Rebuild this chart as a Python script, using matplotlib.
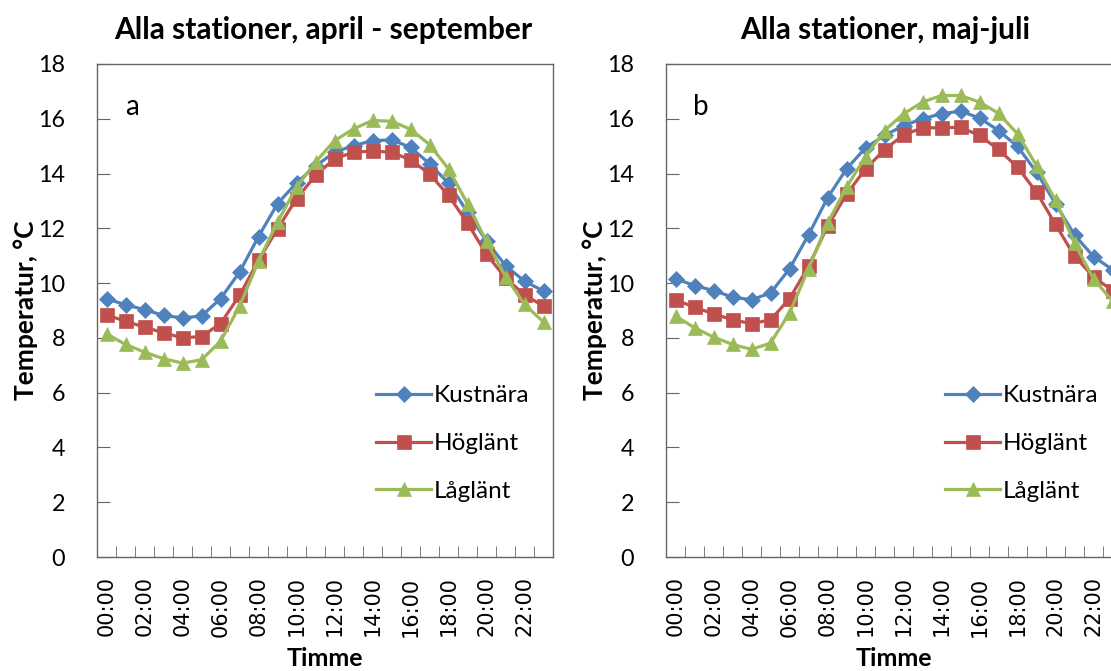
import matplotlib
matplotlib.use("Agg")
from matplotlib import pyplot as plt
from matplotlib.ticker import MultipleLocator
import numpy as np

# hourly mean temperature (deg C)
hours = ["%02d:00" % h for h in range(24)]
series_names = ["Kustnära", "Höglänt", "Låglänt"]

# panel a: april - september
kust_a = [9.43, 9.21, 9.03, 8.82, 8.73, 8.80, 9.43, 10.40, 11.70, 12.90, 13.66, 14.27,
          14.78, 15.02, 15.20, 15.23, 14.96, 14.36, 13.65, 12.59, 11.53, 10.64, 10.07, 9.71]
hog_a = [8.84, 8.61, 8.39, 8.19, 8.00, 8.05, 8.52, 9.55, 10.83, 11.98, 13.08, 13.93,
         14.54, 14.78, 14.82, 14.78, 14.50, 13.99, 13.20, 12.19, 11.05, 10.19, 9.57, 9.16]
lag_a = [8.15, 7.76, 7.48, 7.24, 7.08, 7.20, 7.88, 9.15, 10.80, 12.23, 13.50, 14.42,
         15.20, 15.63, 15.94, 15.91, 15.62, 15.06, 14.17, 12.90, 11.52, 10.24, 9.22, 8.58]

# panel b: maj - juli
kust_b = [10.16, 9.91, 9.73, 9.49, 9.39, 9.64, 10.52, 11.76, 13.11, 14.17, 14.94, 15.39,
          15.75, 16.00, 16.18, 16.28, 16.03, 15.57, 14.99, 14.05, 12.90, 11.76, 10.97, 10.49]
hog_b = [9.39, 9.12, 8.88, 8.66, 8.52, 8.66, 9.43, 10.61, 12.07, 13.24, 14.17, 14.87,
         15.41, 15.67, 15.67, 15.69, 15.39, 14.88, 14.23, 13.32, 12.14, 10.99, 10.22, 9.73]
lag_b = [8.80, 8.37, 8.03, 7.76, 7.58, 7.81, 8.91, 10.52, 12.19, 13.50, 14.62, 15.57,
         16.18, 16.61, 16.85, 16.85, 16.61, 16.20, 15.45, 14.29, 13.02, 11.46, 10.16, 9.34]

colors = ["#4F81BD", "#C0504D", "#9BBB59"]
markers = ["D", "s", "^"]
msizes = [7.8, 10, 10.5]

plt.rcParams['font.family'] = ['Lato', 'DejaVu Sans']

fig = plt.figure(figsize=(11.11, 6.71), dpi=100)
W, H = 1111.0, 671.0

def make_panel(left_px, data, letter, title, title_x):
    ax = fig.add_axes([left_px / W, (H - 557) / H, 456 / W, 493 / H])
    x = np.arange(len(hours))
    for vals, name, c, m, ms in zip(data, series_names, colors, markers, msizes):
        ax.plot(x, vals, color=c, lw=2.3, marker=m, markersize=ms,
                markerfacecolor=c, markeredgecolor=c, markeredgewidth=0.5, label=name)
    ax.set_xlim(-0.5, 23.5)
    ax.set_ylim(0, 18)
    ax.yaxis.set_major_locator(MultipleLocator(2))
    ax.set_xticks(x[::2])
    ax.set_xticklabels(hours[::2], rotation=90, family='DejaVu Sans', fontsize=15)
    ax.set_xticks(np.arange(-0.5, 24, 1), minor=True)
    ax.tick_params(axis='x', which='major', length=0, pad=14)
    ax.tick_params(axis='x', which='minor', direction='in', length=8, color='#666666')
    ax.tick_params(axis='y', direction='in', length=9, color='#666666', pad=23, labelsize=16.8)
    for sp in ax.spines.values():
        sp.set_color('#666666')
        sp.set_linewidth(1)
    ax.text(0.077, 0.912, letter, transform=ax.transAxes, fontsize=20, ha='center', va='center')
    ax.legend(loc='upper left', bbox_to_anchor=(0.612, 0.348), frameon=False, fontsize=17.5,
              handlelength=2.26, handletextpad=0.12, labelspacing=1.1, borderpad=0,
              borderaxespad=0)
    fig.text(title_x / W, 1 - 30 / H, title, ha='center', va='center', fontsize=21.5,
             fontweight='bold')
    fig.text((left_px + 228) / W, 1 - 659 / H, "Timme", ha='center', va='center',
             fontsize=18, fontweight='bold')
    fig.text((left_px - 71) / W, (H - 310) / H, "Temperatur, °C", ha='center', va='center',
             rotation=90, fontsize=19, fontweight='bold')
    return ax

make_panel(97, [kust_a, hog_a, lag_a], "a", "Alla stationer, april - september", 323.5)
make_panel(666, [kust_b, hog_b, lag_b], "b", "Alla stationer, maj-juli", 885)

fig.savefig("out.png", dpi=100)
